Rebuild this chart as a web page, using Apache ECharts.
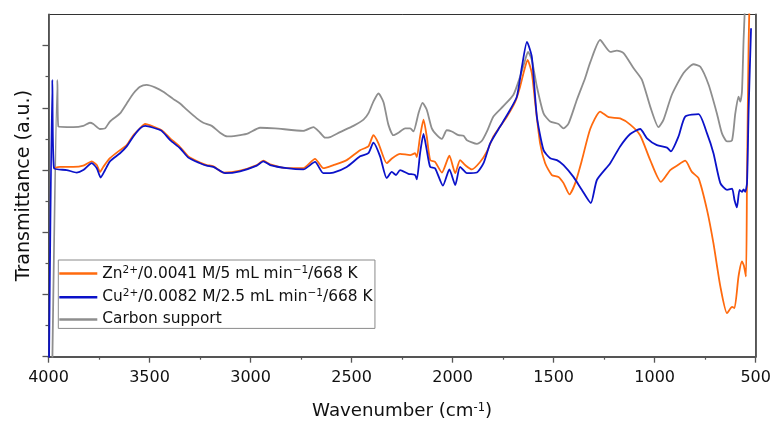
<!DOCTYPE html>
<html>
<head>
<meta charset="utf-8">
<script src="https://cdn.jsdelivr.net/npm/echarts@6/dist/echarts.min.js"></script>
<style>
  html, body { margin: 0; padding: 0; background: #fff; }
  #chart { width: 771px; height: 423px; }
</style>
</head>
<body>
<div id="chart"></div>
<script>
// FTIR spectra: [wavenumber (cm-1), transmittance (a.u.)]
const carbonSupport = [
  [3981,-0.1],[3956,4.45],[3951,3.70],[3877,3.69],[3828,3.71],[3795,3.76],[3778,3.74],[3745,3.66],
  [3720,3.67],[3696,3.78],[3646,3.91],[3613,4.07],[3580,4.23],[3547,4.34],[3514,4.37],[3473,4.33],
  [3432,4.26],[3382,4.14],[3349,4.07],[3316,3.97],[3266,3.83],[3234,3.76],[3192,3.71],[3151,3.60],
  [3115,3.54],[3019,3.58],[2953,3.68],[2879,3.67],[2739,3.63],[2689,3.69],[2656,3.60],[2631,3.52],
  [2606,3.53],[2557,3.61],[2491,3.71],[2441,3.81],[2417,3.91],[2392,4.10],[2367,4.23],[2342,4.09],
  [2318,3.73],[2293,3.56],[2268,3.60],[2235,3.67],[2210,3.67],[2194,3.62],[2169,3.91],[2149,4.08],
  [2128,3.97],[2103,3.67],[2078,3.56],[2053,3.50],[2029,3.64],[2004,3.62],[1971,3.56],[1946,3.55],
  [1929,3.48],[1880,3.42],[1855,3.47],[1830,3.62],[1798,3.86],[1748,4.03],[1699,4.21],[1666,4.50],
  [1641,4.77],[1627,4.90],[1608,4.77],[1583,4.34],[1550,3.91],[1517,3.78],[1476,3.74],[1451,3.67],
  [1426,3.75],[1385,4.13],[1344,4.48],[1319,4.73],[1270,5.09],[1220,4.90],[1187,4.92],[1154,4.88],
  [1105,4.64],[1063,4.45],[1022,4.02],[981,3.69],[956,3.81],[915,4.21],[857,4.56],[808,4.70],
  [774,4.66],[733,4.37],[692,3.91],[667,3.59],[642,3.46],[617,3.48],[601,3.91],[585,4.18],
  [576,4.10],[568,4.26],[560,5.09],[554,5.57],[548,6.2]
];

const znSample = [
  [3973,3.03],[3943,3.05],[3877,3.05],[3828,3.07],[3786,3.14],[3761,3.08],[3745,2.97],[3729,3.05],
  [3696,3.19],[3646,3.32],[3613,3.40],[3580,3.56],[3547,3.67],[3522,3.74],[3481,3.70],[3440,3.64],
  [3398,3.51],[3349,3.37],[3308,3.22],[3250,3.12],[3217,3.08],[3184,3.06],[3135,2.96],[3052,2.99],
  [2969,3.08],[2937,3.15],[2903,3.09],[2821,3.03],[2739,3.03],[2681,3.18],[2640,3.03],[2590,3.08],
  [2524,3.16],[2458,3.32],[2417,3.38],[2392,3.56],[2367,3.43],[2326,3.11],[2299,3.19],[2260,3.26],
  [2210,3.24],[2186,3.27],[2177,3.21],[2161,3.54],[2144,3.81],[2128,3.54],[2111,3.16],[2087,3.13],
  [2053,2.96],[2016,3.23],[1987,2.95],[1963,3.16],[1938,3.08],[1905,3.01],[1864,3.13],[1830,3.30],
  [1798,3.54],[1765,3.70],[1731,3.86],[1690,4.10],[1666,4.34],[1649,4.56],[1629,4.77],[1608,4.56],
  [1591,4.07],[1567,3.43],[1542,3.11],[1509,2.92],[1476,2.89],[1451,2.79],[1422,2.61],[1393,2.79],
  [1360,3.16],[1319,3.66],[1270,3.94],[1228,3.85],[1171,3.83],[1121,3.73],[1072,3.56],[1022,3.16],
  [969,2.81],[923,3.00],[890,3.07],[849,3.15],[816,2.97],[783,2.87],[741,2.36],[709,1.82],
  [675,1.13],[642,0.70],[617,0.80],[605,0.78],[585,1.29],[568,1.53],[559,1.47],[548,1.29],
  [543,2.89],[535,5.04],[527,6.2]
];

const cuSample = [
  [3998,-0.3],[3981,4.45],[3973,3.03],[3910,3.00],[3860,2.96],[3828,3.00],[3786,3.11],[3761,3.03],
  [3742,2.88],[3720,3.00],[3696,3.14],[3646,3.27],[3613,3.38],[3580,3.54],[3547,3.67],[3522,3.71],
  [3481,3.68],[3440,3.63],[3398,3.48],[3349,3.35],[3308,3.20],[3250,3.11],[3217,3.07],[3184,3.05],
  [3126,2.95],[3052,2.98],[2969,3.07],[2937,3.14],[2903,3.08],[2821,3.03],[2739,3.01],[2681,3.13],
  [2640,2.95],[2590,2.96],[2524,3.05],[2458,3.22],[2417,3.27],[2392,3.44],[2359,3.22],[2326,2.87],
  [2301,2.97],[2280,2.92],[2260,3.00],[2219,2.94],[2186,2.92],[2177,2.85],[2161,3.27],[2144,3.58],
  [2128,3.32],[2111,3.05],[2087,3.03],[2048,2.75],[2016,3.01],[1987,2.76],[1963,3.05],[1929,2.95],
  [1880,2.96],[1847,3.11],[1814,3.43],[1765,3.70],[1715,3.97],[1682,4.18],[1657,4.66],[1632,5.06],
  [1608,4.82],[1583,3.86],[1550,3.32],[1517,3.19],[1484,3.16],[1451,3.08],[1402,2.89],[1360,2.68],
  [1316,2.47],[1286,2.84],[1220,3.11],[1171,3.38],[1121,3.58],[1072,3.66],[1038,3.51],[989,3.40],
  [939,3.36],[920,3.30],[882,3.54],[849,3.86],[783,3.90],[741,3.59],[709,3.27],[675,2.79],
  [642,2.68],[617,2.70],[605,2.52],[593,2.40],[580,2.68],[568,2.65],[560,2.69],[552,2.65],
  [543,2.79],[535,3.97],[523,5.28]
];

const xTicks = { min: 500, max: 4000, step: 500 };
const yMajorTicks = [0, 1, 2, 3, 4, 5];
const yMinorTicks = [0.5, 1.5, 2.5, 3.5, 4.5];

const NAME_ZN = 'Zn2+/0.0041 M/5 mL min-1/668 K';
const NAME_CU = 'Cu2+/0.0082 M/2.5 mL min-1/668 K';
const NAME_C = 'Carbon support';
const legendText = {
  [NAME_ZN]: '{n|Zn}{s|2+}{n|/0.0041 M/5 mL min}{s|\u22121}{n|/668 K}',
  [NAME_CU]: '{n|Cu}{s|2+}{n|/0.0082 M/2.5 mL min}{s|\u22121}{n|/668 K}',
  [NAME_C]: '{n|Carbon support}'
};

const FONT = 'DejaVu Sans';
const AXIS_COLOR = '#555';

const chart = echarts.init(document.getElementById('chart'), null, { renderer: 'canvas' });

function spectrum(name, data, color) {
  return {
    name, type: 'line', data,
    xAxisIndex: 0, yAxisIndex: 0,
    symbol: 'none', showSymbol: false, smooth: 0.2,
    clip: true,
    lineStyle: { color, width: 1.8 },
    itemStyle: { color },
    emphasis: { disabled: true },
    animation: false
  };
}

chart.setOption({
  animation: false,
  backgroundColor: '#fff',
  grid: {
    left: 48.5, right: 15.3, top: 14.5, bottom: 66.3,
    containLabel: false,
    outerBoundsMode: 'none',
    show: true, borderColor: '#333', borderWidth: 1, backgroundColor: 'transparent'
  },
  legend: {
    data: [NAME_ZN, NAME_CU, NAME_C],
    orient: 'vertical',
    left: 58.3, top: 260,
    padding: [4.5, 2.4, 1.5, 1],
    itemGap: 7.2,
    itemWidth: 38, itemHeight: 2.5,
    icon: 'rect',
    borderColor: '#8a8a8a', borderWidth: 1,
    backgroundColor: '#fff',
    selectedMode: false,
    formatter: (name) => legendText[name],
    textStyle: {
      color: '#111',
      rich: {
        n: { fontFamily: FONT, fontSize: 15.4, lineHeight: 18, color: '#111' },
        s: { fontFamily: FONT, fontSize: 10.5, lineHeight: 10, verticalAlign: 'top', color: '#111' }
      }
    }
  },
  xAxis: [{
    type: 'value', inverse: true,
    min: xTicks.min, max: xTicks.max, interval: xTicks.step,
    name: '{n|Wavenumber (cm}{s|-1}{n|)}',
    nameLocation: 'middle', nameGap: 45,
    nameTextStyle: {
      rich: {
        n: { fontFamily: FONT, fontSize: 18.2, lineHeight: 20, color: '#111' },
        s: { fontFamily: FONT, fontSize: 11.5, lineHeight: 11, verticalAlign: 'top', color: '#111' }
      }
    },
    axisLine: { onZero: false, lineStyle: { color: AXIS_COLOR, width: 1.8 } },
    axisTick: { show: true, inside: false, length: 6, lineStyle: { color: AXIS_COLOR, width: 1.3 } },
    minorTick: { show: true, splitNumber: 2, length: 3, lineStyle: { color: AXIS_COLOR, width: 1.2 } },
    axisLabel: { fontFamily: FONT, fontSize: 16, color: '#111', margin: 13, formatter: (v) => String(v) },
    splitLine: { show: false },
    minorSplitLine: { show: false }
  }],
  yAxis: [{
    type: 'value',
    min: 0, max: 5.5, interval: 1,
    name: 'Transmittance (a.u.)',
    nameLocation: 'middle', nameGap: 15,
    nameTextStyle: { fontFamily: FONT, fontSize: 19, color: '#111' },
    axisLine: { onZero: false, lineStyle: { color: AXIS_COLOR, width: 1.8 } },
    axisTick: { show: true, inside: false, length: 6, customValues: yMajorTicks, lineStyle: { color: AXIS_COLOR, width: 1.3 } },
    axisLabel: { show: false },
    splitLine: { show: false }
  }, {
    type: 'value', position: 'left',
    min: 0, max: 5.5, interval: 1,
    axisLine: { show: false },
    axisTick: { show: true, inside: false, length: 3, customValues: yMinorTicks, lineStyle: { color: AXIS_COLOR, width: 1.2 } },
    axisLabel: { show: false },
    splitLine: { show: false }
  }, {
    type: 'value', position: 'right',
    min: 0, max: 5.5,
    axisLine: { show: true, onZero: false, lineStyle: { color: AXIS_COLOR, width: 1.8 } },
    axisTick: { show: false },
    axisLabel: { show: false },
    splitLine: { show: false }
  }],
  series: [
    spectrum(NAME_C, carbonSupport, '#8e8e8e'),
    spectrum(NAME_ZN, znSample, '#ff6a0e'),
    spectrum(NAME_CU, cuSample, '#0b12c9')
  ]
});
</script>
</body>
</html>
